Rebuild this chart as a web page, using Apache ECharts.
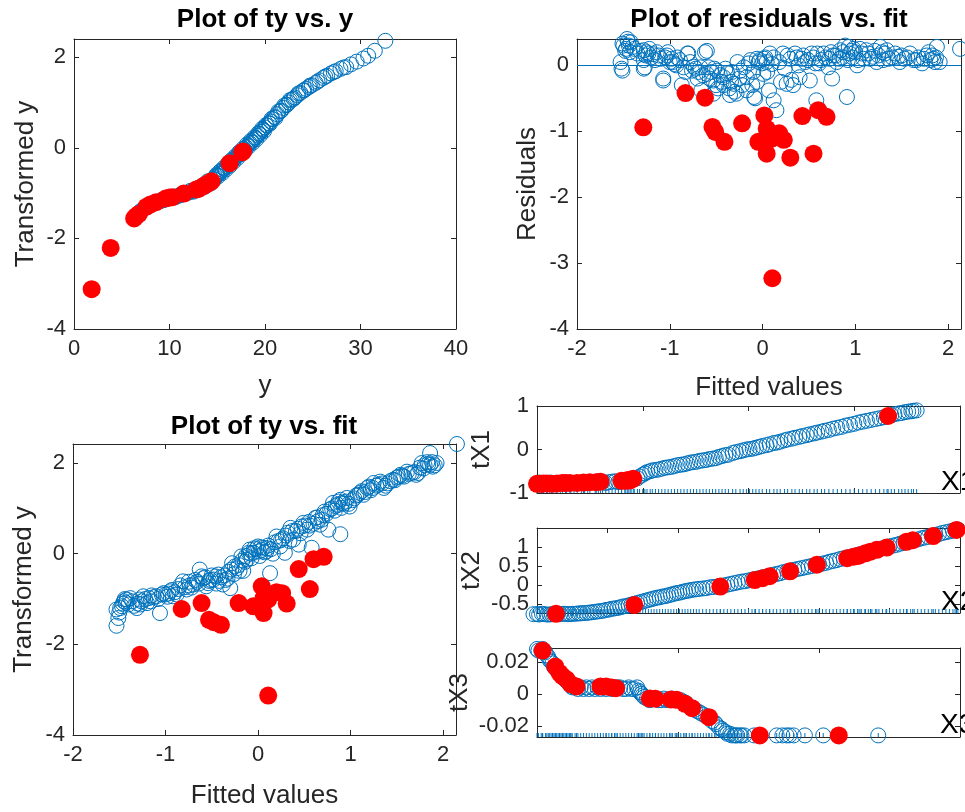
<!DOCTYPE html>
<html>
<head>
<meta charset="utf-8">
<script src="https://cdn.jsdelivr.net/npm/echarts@6/dist/echarts.min.js"></script>
<style>
html, body { margin: 0; background: #fff; }
#chart { width: 965px; height: 812px; }
</style>
</head>
<body>
<div id="chart"></div>
<script>
// ---- data ----
// top-left: transformed y against y
const tyVsYGood = [[6.4,-1.52],[6.6,-1.47],[6.9,-1.42],[7.1,-1.38],[7.3,-1.35],[7.5,-1.32],[7.8,-1.29],[8.1,-1.26],[8.4,-1.23],[8.7,-1.20],[9.0,-1.18],[9.3,-1.16],[9.6,-1.14],[9.9,-1.12],[10.2,-1.10],[10.5,-1.08],[10.8,-1.07],[11.1,-1.05],[11.4,-1.03],[11.7,-1.01],[12.0,-0.99],[12.3,-0.96],[12.6,-0.94],[12.9,-0.91],[13.2,-0.88],[13.5,-0.85],[13.8,-0.81],[14.1,-0.77],[14.4,-0.73],[14.6,-0.69],[14.8,-0.65],[15.0,-0.61],[15.2,-0.57],[15.4,-0.53],[15.6,-0.49],[15.8,-0.45],[16.0,-0.41],[16.2,-0.37],[16.4,-0.33],[16.6,-0.28],[16.8,-0.24],[17.0,-0.20],[17.2,-0.15],[17.4,-0.11],[17.6,-0.07],[17.8,-0.03],[18.0,0.01],[18.2,0.05],[18.4,0.10],[18.6,0.14],[18.8,0.18],[19.0,0.22],[19.2,0.27],[19.4,0.31],[19.6,0.36],[19.8,0.40],[20.0,0.45],[20.2,0.49],[20.4,0.54],[20.6,0.58],[20.8,0.63],[21.0,0.68],[21.3,0.74],[21.6,0.81],[21.9,0.88],[22.2,0.94],[22.5,1.00],[22.8,1.06],[23.1,1.11],[23.4,1.16],[23.7,1.21],[24.0,1.26],[24.3,1.30],[24.6,1.34],[24.9,1.38],[25.3,1.43],[25.7,1.49],[26.1,1.54],[26.5,1.59],[26.9,1.64],[27.4,1.69],[27.9,1.74],[28.5,1.78],[29.0,1.84],[29.6,1.90],[30.3,1.97],[30.8,2.03],[31.5,2.14],[32.6,2.36],
    [12.2,-0.95],[12.5,-0.97],[13.0,-0.93],[13.4,-0.84],[13.7,-0.86],[14.0,-0.74],[14.3,-0.79],[14.7,-0.70],[14.9,-0.60],[15.1,-0.63],[15.3,-0.52],[15.5,-0.56],[15.7,-0.44],[15.9,-0.48],[16.1,-0.36],[16.3,-0.40],[16.5,-0.27],[16.7,-0.31],[16.9,-0.19],[17.1,-0.23],[17.3,-0.10],[17.5,-0.14],[17.7,-0.02],[17.9,-0.06],[18.1,0.07],[18.3,0.03],[18.5,0.15],[18.7,0.11],[18.9,0.23],[19.1,0.19],[19.3,0.32],[19.5,0.28],[19.7,0.42],[19.9,0.37],[20.1,0.50],[20.5,0.53],[20.7,0.64],[21.1,0.66],[21.4,0.80],[21.7,0.82],[22.0,0.93],[22.3,0.95],[22.6,1.05],[23.0,1.08],[23.5,1.20],[24.1,1.27],[24.7,1.37],[25.5,1.46],[26.3,1.57],[27.2,1.67],[28.2,1.77],[9.2,-1.15],[10.6,-1.09],[11.2,-1.03],[7.0,-1.40],[8.0,-1.26]];
const tyVsYOut = [[1.85,-3.12],[3.84,-2.21],[6.3,-1.56],[6.5,-1.51],[6.8,-1.46],[7.6,-1.30],[8.0,-1.25],[8.6,-1.20],[9.6,-1.12],[10.0,-1.10],[10.3,-1.09],[11.5,-1.01],[12.8,-0.92],[13.1,-0.90],[13.6,-0.84],[14.0,-0.79],[14.4,-0.74],[16.3,-0.34],[17.6,-0.10],[17.7,-0.08]];

// top-right: residuals against fitted values
const resVsFitGood = [[-1.53,0.05],[-1.51,-0.08],[-1.52,-0.05],[-1.51,0.33],[-1.46,0.40],[-1.44,0.30],[-1.48,0.22],[-1.42,0.35],[-1.40,0.28],[-1.28,0.23],[-1.23,0.18],[-1.28,0.08],[-1.28,-0.05],[-1.27,-0.03],[-1.25,0.20],[-1.20,0.12],[-1.14,0.20],[-1.10,0.10],[-1.07,-0.20],[-1.07,-0.23],[-1.03,0.15],[-0.98,0.10],[-1.00,0.05],[-0.95,0.02],[-0.92,0.12],[-0.87,-0.30],[-0.85,-0.03],[-0.81,0.18],[-0.80,0.18],[-0.78,0.05],[-0.76,-0.08],[-0.72,-0.05],[-0.70,-0.20],[-0.67,-0.03],[-0.66,-0.38],[-0.62,0.20],[-0.60,0.22],[-0.60,-0.13],[-0.58,-0.03],[-0.55,-0.10],[-0.53,-0.23],[-0.53,-0.43],[-0.50,-0.30],[-0.49,-0.08],[-0.46,-0.15],[-0.42,-0.18],[-0.42,-0.30],[-0.40,-0.05],[-0.36,-0.35],[-0.35,-0.45],[-0.33,-0.10],[-0.31,-0.28],[-0.28,-0.43],[-0.27,0.05],[-0.25,-0.20],[-0.20,-0.03],[-0.17,-0.18],[-0.17,-0.38],[-0.13,0.08],[-0.10,-0.10],[-0.09,-0.48],[-0.08,-0.50],[-0.06,0.10],[-0.06,-0.25],[-0.03,0.08],[-0.005,0.03],[0.01,-0.13],[0.03,0.12],[0.045,0.05],[0.07,-0.38],[0.08,0.18],[0.10,0.02],[0.12,-0.53],[0.15,-0.68],[0.18,0.05],[0.22,0.18],[0.24,-0.05],[0.26,-0.28],[0.30,0.10],[0.33,-0.30],[0.35,0.18],[0.39,0.00],[0.40,-0.18],[0.42,0.10],[0.46,0.05],[0.51,-0.23],[0.55,0.12],[0.57,0.03],[0.58,-0.53],[0.59,0.18],[0.63,0.08],[0.66,0.18],[0.71,-0.03],[0.72,0.10],[0.75,-0.20],[0.76,0.15],[0.80,0.05],[0.84,0.23],[0.86,0.12],[0.89,0.30],[0.91,-0.48],[0.92,0.08],[0.94,0.18],[0.96,0.22],[0.98,0.25],[1.02,0.00],[1.03,0.08],[1.07,0.18],[1.12,0.23],[1.16,0.10],[1.19,0.13],[1.23,0.05],[1.27,0.28],[1.30,0.08],[1.32,0.18],[1.34,0.23],[1.40,0.12],[1.46,0.13],[1.48,0.05],[1.53,0.10],[1.59,0.18],[1.63,0.08],[1.68,0.12],[1.72,0.03],[1.77,0.15],[1.81,0.08],[1.84,0.10],[1.86,0.05],[1.88,0.28],[1.91,0.05],[2.13,0.25],
    [-1.50,0.30],[-1.47,0.25],[-1.45,0.36],[-1.43,0.20],[-1.38,0.25],[-1.35,0.18],[-1.32,0.22],[-1.26,0.15],[-1.22,0.25],[-1.18,0.17],[-1.16,0.08],[-1.12,0.15],[-1.05,0.12],[-1.02,0.20],[-0.97,0.05],[-0.93,0.00],[-0.89,0.08],[-0.83,-0.10],[-0.74,-0.02],[-0.69,-0.10],[-0.64,-0.15],[-0.57,-0.20],[-0.52,-0.05],[-0.48,-0.35],[-0.44,-0.25],[-0.38,-0.12],[-0.34,-0.25],[-0.30,-0.40],[-0.24,-0.08],[-0.22,-0.30],[-0.15,0.03],[-0.11,-0.30],[-0.04,0.05],[0.02,0.10],[0.05,-0.10],[0.12,0.12],[0.20,-0.25],[0.27,0.15],[0.31,-0.22],[0.37,0.12],[0.44,0.15],[0.49,0.08],[0.53,0.18],[0.61,0.03],[0.68,0.12],[0.74,0.20],[0.79,0.15],[0.83,0.10],[0.87,0.20],[0.93,0.28],[0.97,0.12],[1.00,0.20],[1.05,0.25],[1.09,0.10],[1.14,0.18],[1.21,0.22],[1.25,0.15],[1.29,0.20],[1.36,0.10],[1.43,0.18],[1.50,0.15],[1.56,0.12],[1.66,0.08],[1.74,0.10],[1.79,0.20],[1.83,0.15],[1.87,0.12]];
const resVsFitOut = [[-1.285,-0.94],[-0.83,-0.42],[-0.62,-0.49],[-0.54,-0.935],[-0.51,-1.01],[-0.41,-1.16],[-0.22,-0.88],[0.02,-0.76],[-0.045,-1.16],[0.045,-0.96],[0.045,-1.34],[0.10,-1.11],[0.18,-1.03],[0.23,-1.13],[0.30,-1.40],[0.106,-3.23],[0.43,-0.77],[0.55,-1.34],[0.60,-0.68],[0.69,-0.78]];

// bottom-left: transformed y against fitted values
const tyVsFitGood = [[-1.53,-1.59],[-1.51,-1.42],[-1.53,-1.23],[-1.50,-1.30],[-1.47,-1.16],[-1.45,-1.05],[-1.43,-1.08],[-1.42,-1.01],[-1.40,-1.12],[-1.38,-0.98],[-1.31,-1.20],[-1.30,-1.10],[-1.28,-1.01],[-1.26,-1.05],[-1.24,-0.94],[-1.20,-1.09],[-1.18,-0.98],[-1.15,-0.92],[-1.10,-0.94],[-1.08,-1.00],[-1.06,-1.31],[-1.04,-0.90],[-1.02,-0.87],[-0.98,-0.95],[-0.95,-0.83],[-0.92,-0.94],[-0.90,-0.85],[-0.86,-0.78],[-0.81,-0.61],[-0.79,-0.74],[-0.77,-0.79],[-0.74,-0.70],[-0.70,-0.68],[-0.66,-0.62],[-0.63,-0.35],[-0.61,-0.50],[-0.59,-0.54],[-0.56,-0.72],[-0.53,-0.60],[-0.50,-0.48],[-0.48,-0.57],[-0.45,-0.66],[-0.43,-0.46],[-0.40,-0.52],[-0.38,-0.68],[-0.35,-0.58],[-0.32,-0.40],[-0.30,-0.76],[-0.28,-0.21],[-0.26,-0.45],[-0.23,-0.32],[-0.21,-0.25],[-0.18,-0.06],[-0.16,-0.38],[-0.14,-0.18],[-0.12,-0.13],[-0.10,0.02],[-0.09,0.09],[-0.07,-0.10],[-0.05,0.02],[-0.02,0.10],[0.00,0.16],[0.02,-0.05],[0.04,0.08],[0.06,0.13],[0.09,0.05],[0.11,0.18],[0.13,-0.43],[0.16,0.00],[0.20,0.38],[0.22,0.28],[0.24,0.16],[0.27,0.34],[0.29,0.02],[0.32,0.46],[0.35,0.57],[0.38,0.31],[0.41,0.50],[0.44,0.20],[0.47,0.60],[0.49,0.68],[0.53,0.53],[0.56,0.62],[0.58,0.13],[0.62,0.79],[0.65,0.72],[0.67,0.64],[0.70,0.85],[0.72,0.93],[0.76,0.53],[0.78,0.98],[0.81,1.12],[0.84,1.05],[0.87,1.15],[0.89,1.19],[0.90,1.01],[0.89,0.43],[0.93,1.10],[0.96,1.23],[0.99,1.04],[1.02,1.18],[1.06,1.28],[1.10,1.34],[1.14,1.30],[1.18,1.45],[1.22,1.40],[1.25,1.56],[1.28,1.50],[1.32,1.59],[1.36,1.45],[1.40,1.55],[1.46,1.63],[1.50,1.68],[1.54,1.74],[1.58,1.70],[1.61,1.81],[1.66,1.78],[1.71,1.74],[1.75,1.90],[1.77,2.00],[1.80,1.95],[1.83,2.02],[1.86,2.22],[1.86,1.96],[1.89,1.92],[1.93,2.00],[2.15,2.42],
    [-1.49,-1.20],[-1.46,-1.10],[-1.44,-1.00],[-1.36,-1.05],[-1.34,-1.15],[-1.27,-1.12],[-1.22,-1.00],[-1.16,-1.05],[-1.13,-0.96],[-1.00,-0.90],[-0.97,-0.88],[-0.93,-0.80],[-0.88,-0.90],[-0.84,-0.70],[-0.75,-0.62],[-0.72,-0.75],[-0.68,-0.58],[-0.64,-0.66],[-0.57,-0.52],[-0.54,-0.65],[-0.51,-0.58],[-0.46,-0.50],[-0.42,-0.60],[-0.36,-0.48],[-0.33,-0.55],[-0.29,-0.35],[-0.25,-0.28],[-0.20,-0.38],[-0.17,-0.15],[-0.13,-0.05],[-0.08,0.00],[-0.04,0.12],[0.01,0.05],[0.03,0.14],[0.07,0.03],[0.10,0.12],[0.14,0.10],[0.18,0.25],[0.25,0.30],[0.30,0.40],[0.34,0.28],[0.37,0.50],[0.43,0.55],[0.46,0.45],[0.51,0.62],[0.55,0.70],[0.60,0.66],[0.64,0.80],[0.69,0.75],[0.74,0.88],[0.80,1.00],[0.83,0.95],[0.86,1.08],[0.91,1.12],[0.95,1.15],[0.98,1.10],[1.04,1.22],[1.08,1.30],[1.12,1.38],[1.16,1.36],[1.20,1.48],[1.24,1.45],[1.30,1.52],[1.34,1.55],[1.38,1.50],[1.43,1.60],[1.48,1.62],[1.52,1.70],[1.56,1.72],[1.63,1.76],[1.69,1.80],[1.73,1.78],[1.79,1.88],[1.84,1.98],[1.88,2.02],[1.91,1.95]];
const tyVsFitOut = [[-1.276,-2.23],[-0.825,-1.22],[-0.61,-1.09],[-0.53,-1.46],[-0.48,-1.51],[-0.40,-1.57],[-0.21,-1.09],[0.04,-0.72],[-0.05,-1.16],[0.06,-0.98],[0.06,-1.31],[0.11,-1.01],[0.20,-0.85],[0.26,-0.87],[0.31,-1.10],[0.11,-3.13],[0.44,-0.34],[0.56,-0.78],[0.60,-0.12],[0.71,-0.07]];

// right column: transformed explanatory variables against the raw ones
const tX1Good = [[0.0,-0.79],[0.05,-0.78],[0.10,-0.79],[0.15,-0.77],[0.22,-0.78],[0.28,-0.76],[0.35,-0.77],[0.42,-0.76],[0.48,-0.75],[0.55,-0.76],[0.62,-0.74],[0.68,-0.75],[0.74,-0.73],[0.80,-0.72],[0.86,-0.71],[0.92,-0.68],[0.97,-0.62],[1.02,-0.55],[1.07,-0.50],[1.12,-0.47],[1.18,-0.44],[1.24,-0.41],[1.30,-0.38],[1.36,-0.35],[1.42,-0.32],[1.48,-0.29],[1.54,-0.26],[1.60,-0.24],[1.66,-0.21],[1.72,-0.17],[1.78,-0.13],[1.85,-0.08],[1.92,-0.04],[1.98,0.00],[2.04,0.02],[2.10,0.06],[2.17,0.10],[2.24,0.15],[2.30,0.18],[2.37,0.23],[2.44,0.27],[2.51,0.31],[2.58,0.35],[2.65,0.39],[2.72,0.43],[2.80,0.48],[2.88,0.52],[2.96,0.57],[3.04,0.62],[3.12,0.66],[3.20,0.70],[3.28,0.74],[3.35,0.79],[3.42,0.83],[3.48,0.86],[3.54,0.88],[3.59,0.90],
    [0.02,-0.76],[0.12,-0.76],[0.18,-0.79],[0.32,-0.78],[0.45,-0.77],[0.58,-0.73],[0.65,-0.77],[0.71,-0.74],[0.77,-0.75],[0.83,-0.73],[0.89,-0.70],[0.95,-0.66],[1.00,-0.58],[1.04,-0.52],[1.09,-0.48],[1.15,-0.46],[1.21,-0.42],[1.27,-0.40],[1.33,-0.36],[1.39,-0.34],[1.45,-0.30],[1.51,-0.28],[1.57,-0.25],[1.63,-0.22],[1.69,-0.20],[1.75,-0.15],[1.81,-0.12],[1.88,-0.06],[1.95,-0.02],[2.01,0.01],[2.07,0.04],[2.13,0.08],[2.20,0.12],[2.27,0.16],[2.34,0.21],[2.41,0.25],[2.48,0.29],[2.55,0.33],[2.62,0.37],[2.69,0.41],[2.76,0.45],[2.84,0.50],[2.92,0.55],[3.00,0.59],[3.08,0.64],[3.16,0.68],[3.24,0.72],[3.31,0.76],[3.38,0.81],[3.45,0.84],[3.51,0.87],[3.56,0.89]];
const tX1Out = [[0.00,-0.79],[0.04,-0.79],[0.06,-0.78],[0.09,-0.78],[0.14,-0.79],[0.19,-0.78],[0.24,-0.77],[0.27,-0.77],[0.31,-0.77],[0.38,-0.77],[0.44,-0.76],[0.50,-0.75],[0.56,-0.75],[0.60,-0.74],[0.80,-0.72],[0.84,-0.72],[0.86,-0.70],[0.88,-0.71],[0.91,-0.67],[3.32,0.77]];
const tX2Good = [[-0.05,-0.76],[0.03,-0.77],[0.10,-0.76],[0.18,-0.77],[0.25,-0.75],[0.33,-0.76],[0.40,-0.75],[0.47,-0.76],[0.55,-0.75],[0.62,-0.74],[0.70,-0.73],[0.78,-0.71],[0.86,-0.69],[0.94,-0.67],[1.02,-0.64],[1.10,-0.61],[1.18,-0.58],[1.26,-0.55],[1.34,-0.51],[1.42,-0.47],[1.50,-0.43],[1.58,-0.39],[1.66,-0.35],[1.74,-0.32],[1.82,-0.29],[1.90,-0.25],[1.98,-0.21],[2.06,-0.18],[2.14,-0.15],[2.22,-0.12],[2.30,-0.10],[2.40,-0.08],[2.50,-0.05],[2.60,-0.03],[2.70,0.01],[2.80,0.05],[2.90,0.09],[3.00,0.12],[3.10,0.16],[3.20,0.20],[3.30,0.24],[3.40,0.29],[3.50,0.34],[3.60,0.38],[3.70,0.42],[3.80,0.46],[3.90,0.50],[4.00,0.54],[4.10,0.58],[4.20,0.63],[4.30,0.68],[4.40,0.72],[4.50,0.76],[4.60,0.81],[4.70,0.86],[4.80,0.91],[4.90,0.96],[5.00,1.01],[5.10,1.05],[5.20,1.10],[5.30,1.14],[5.40,1.19],[5.50,1.24],[5.60,1.29],[5.70,1.33],[5.80,1.38],[5.90,1.42],[5.97,1.45],
    [0.00,-0.76],[0.07,-0.75],[0.14,-0.77],[0.21,-0.76],[0.29,-0.76],[0.37,-0.75],[0.44,-0.76],[0.51,-0.75],[0.59,-0.74],[0.66,-0.73],[0.74,-0.72],[0.82,-0.70],[0.90,-0.68],[0.98,-0.65],[1.06,-0.62],[1.14,-0.60],[1.22,-0.56],[1.30,-0.53],[1.38,-0.49],[1.46,-0.45],[1.54,-0.41],[1.62,-0.37],[1.70,-0.33],[1.78,-0.30],[1.86,-0.27],[1.94,-0.23],[2.02,-0.20],[2.10,-0.16],[2.18,-0.13],[2.26,-0.11],[2.35,-0.09],[2.45,-0.06],[2.55,-0.04],[2.65,-0.01],[2.75,0.03],[2.85,0.07],[2.95,0.10],[3.05,0.14],[3.15,0.18],[3.25,0.22],[3.35,0.27],[3.45,0.31],[3.55,0.36],[3.65,0.40],[3.75,0.44],[3.85,0.48],[3.95,0.52],[4.05,0.56],[4.15,0.61],[4.25,0.65],[4.35,0.70],[4.45,0.74],[4.55,0.79],[4.65,0.84],[4.75,0.89],[4.85,0.94],[4.95,0.98],[5.05,1.03],[5.15,1.08],[5.25,1.12],[5.35,1.17],[5.45,1.22],[5.55,1.26],[5.65,1.31],[5.75,1.36],[5.85,1.40],[5.93,1.44]];
const tX2Out = [[0.27,-0.75],[1.38,-0.52],[2.60,-0.04],[3.09,0.13],[3.20,0.18],[3.30,0.23],[3.59,0.36],[3.97,0.53],[4.40,0.70],[4.49,0.74],[4.55,0.76],[4.58,0.78],[4.66,0.83],[4.73,0.87],[4.82,0.92],[4.96,0.98],[5.24,1.13],[5.33,1.17],[5.62,1.28],[5.95,1.44]];
const tX3Good = [[0.00,0.028],[0.03,0.027],[0.06,0.026],[0.08,0.023],[0.10,0.020],[0.12,0.017],[0.14,0.015],[0.16,0.013],[0.18,0.011],[0.20,0.009],[0.22,0.007],[0.24,0.005],[0.27,0.004],[0.31,0.004],[0.35,0.004],[0.39,0.004],[0.43,0.004],[0.47,0.004],[0.51,0.004],[0.55,0.003],[0.59,0.004],[0.63,0.003],[0.67,0.003],[0.71,0.004],[0.73,0.001],[0.75,-0.001],[0.78,-0.003],[0.82,-0.003],[0.86,-0.004],[0.90,-0.003],[0.94,-0.004],[0.98,-0.004],[1.02,-0.004],[1.06,-0.006],[1.10,-0.009],[1.14,-0.011],[1.18,-0.013],[1.22,-0.015],[1.26,-0.018],[1.29,-0.021],[1.32,-0.023],[1.35,-0.025],[1.38,-0.026],[1.40,-0.026],[1.42,-0.026],[1.44,-0.026],[1.47,-0.026],[1.54,-0.026],[1.70,-0.026],[1.74,-0.026],[1.77,-0.026],[1.79,-0.026],[1.82,-0.026],[1.90,-0.026],[2.03,-0.026],[2.42,-0.026],
    [0.01,0.027],[0.04,0.028],[0.07,0.024],[0.09,0.021],[0.11,0.019],[0.13,0.016],[0.15,0.014],[0.17,0.012],[0.19,0.010],[0.21,0.008],[0.23,0.006],[0.25,0.004],[0.29,0.003],[0.33,0.003],[0.37,0.003],[0.41,0.003],[0.45,0.003],[0.49,0.003],[0.53,0.003],[0.57,0.004],[0.61,0.003],[0.65,0.004],[0.69,0.003],[0.72,0.002],[0.74,0.000],[0.76,-0.002],[0.80,-0.004],[0.84,-0.003],[0.88,-0.004],[0.92,-0.004],[0.96,-0.003],[1.00,-0.004],[1.04,-0.005],[1.08,-0.008],[1.12,-0.010],[1.16,-0.012],[1.20,-0.014],[1.24,-0.017],[1.27,-0.019],[1.31,-0.022],[1.34,-0.024],[1.37,-0.025],[1.41,-0.026],[1.45,-0.026]];
const tX3Out = [[0.04,0.027],[0.13,0.017],[0.16,0.013],[0.18,0.011],[0.21,0.009],[0.24,0.006],[0.28,0.0046],[0.45,0.0046],[0.49,0.0046],[0.53,0.0040],[0.56,0.0035],[0.80,-0.0030],[0.84,-0.0031],[0.95,-0.0035],[0.99,-0.0038],[1.05,-0.0063],[1.10,-0.0090],[1.22,-0.0146],[1.58,-0.026],[2.14,-0.026]];

// tick values
const yTicksX = [0, 10, 20, 30, 40];
const tyTicks = [-4, -2, 0, 2];
const fitTicks = [-2, -1, 0, 1, 2];
const resTicks = [-4, -3, -2, -1, 0];
const tX1Ticks = [-1, 0, 1];
const tX2Ticks = [-0.5, 0, 0.5, 1];
const tX3Ticks = [-0.02, 0, 0.02];
const x1Ticks = [0, 1, 2, 3, 4];
const x2Ticks = [0, 1, 2, 3, 4, 5, 6];
const x3Ticks = [0, 1, 2, 3];

const FONT = "'Liberation Sans', Arial, Helvetica, sans-serif";
const AXIS = '#262626';
const BLUE = '#0072BD';
const RED = '#FF0000';

const panels = [
    {grid: {left: 74, top: 39, width: 382, height: 290}, xMin: 0, xMax: 40, xTicks: yTicksX, yMin: -4, yMax: 2.4, yTicks: tyTicks,
     xName: 'y', xGap: 44, yName: 'Transformed y', yGap: 35, good: tyVsYGood, out: tyVsYOut},
    {grid: {left: 577, top: 39, width: 384, height: 290}, xMin: -2, xMax: 2.14, xTicks: fitTicks, yMin: -4, yMax: 0.4, yTicks: resTicks,
     xName: 'Fitted values', xGap: 46, yName: 'Residuals', yGap: 36, good: resVsFitGood, out: resVsFitOut, zeroLine: true},
    {grid: {left: 73, top: 444, width: 383, height: 291}, xMin: -2, xMax: 2.14, xTicks: fitTicks, yMin: -4, yMax: 2.42, yTicks: tyTicks,
     xName: 'Fitted values', xGap: 48, yName: 'Transformed y', yGap: 36, good: tyVsFitGood, out: tyVsFitOut},
    {grid: {left: 537, top: 406, width: 423, height: 87}, xMin: 0, xMax: 4, xTicks: x1Ticks, yMin: -1, yMax: 1, yTicks: tX1Ticks,
     noXLabels: true, yName: 'tX1', yGap: 42, good: tX1Good, out: tX1Out, rug: true},
    {grid: {left: 537, top: 528, width: 423, height: 85}, xMin: 0, xMax: 6, xTicks: x2Ticks, yMin: -0.73, yMax: 1.49, yTicks: tX2Ticks,
     noXLabels: true, yName: 'tX2', yGap: 52, good: tX2Good, out: tX2Out, rug: true, splitLabels: true},
    {grid: {left: 537, top: 648, width: 423, height: 89}, xMin: 0, xMax: 3, xTicks: x3Ticks, yMin: -0.027, yMax: 0.0286, yTicks: tX3Ticks,
     noXLabels: true, yName: 'tX3', yGap: 64, good: tX3Good, out: tX3Out, rug: true},
];

const nameStyle = {color: AXIS, fontSize: 26, fontFamily: FONT};
const labelStyle = {color: AXIS, fontSize: 22, fontFamily: FONT, showMinLabel: true, showMaxLabel: true};
const axisLine = {show: true, onZero: false, lineStyle: {color: AXIS, width: 1}};
const ticks = (vals) => ({show: true, inside: true, length: 5, customValues: vals, lineStyle: {color: AXIS, width: 1}});

const grids = [], xAxes = [], yAxes = [], series = [], extraYAxes = [];

panels.forEach((p, i) => {
    grids.push(p.grid);

    // tick labels that sit closer than their own height get thinned by echarts,
    // so such an axis hands every other label to a bare companion axis
    const even = p.yTicks.filter((v, k) => k % 2 === 0);
    const odd = p.yTicks.filter((v, k) => k % 2 === 1);
    const yLabels = p.splitLabels ? even : p.yTicks;

    // bottom / left axes carry the labels, top / right ones only close the box
    xAxes.push({
        gridIndex: i, type: 'value', position: 'bottom', min: p.xMin, max: p.xMax,
        axisLine: axisLine, axisTick: ticks(p.xTicks), splitLine: {show: false},
        axisLabel: Object.assign({show: !p.noXLabels, customValues: p.xTicks, margin: 9}, labelStyle),
        name: p.xName || '', nameLocation: 'middle', nameGap: p.xGap || 0, nameTextStyle: nameStyle,
    });
    xAxes.push({
        gridIndex: i, type: 'value', position: 'top', min: p.xMin, max: p.xMax,
        axisLine: axisLine, axisTick: ticks(p.xTicks), splitLine: {show: false}, axisLabel: {show: false},
    });
    yAxes.push({
        gridIndex: i, type: 'value', position: 'left', min: p.yMin, max: p.yMax,
        axisLine: axisLine, axisTick: ticks(p.yTicks), splitLine: {show: false},
        axisLabel: Object.assign({customValues: yLabels, margin: 8}, labelStyle),
        name: p.yName, nameLocation: 'middle', nameGap: p.yGap, nameTextStyle: nameStyle,
    });
    yAxes.push({
        gridIndex: i, type: 'value', position: 'right', min: p.yMin, max: p.yMax,
        axisLine: axisLine, axisTick: ticks(p.yTicks), splitLine: {show: false}, axisLabel: {show: false},
    });
    if (p.splitLabels) {
        extraYAxes.push({
            gridIndex: i, type: 'value', position: 'left', min: p.yMin, max: p.yMax,
            axisLine: {show: false}, axisTick: {show: false}, splitLine: {show: false},
            axisLabel: Object.assign({customValues: odd, margin: 8}, labelStyle),
        });
    }

    const ax = {xAxisIndex: 2 * i, yAxisIndex: 2 * i};

    if (p.rug) {
        series.push(Object.assign({
            type: 'scatter', symbol: 'rect', symbolSize: [1, 4], symbolOffset: [0, -2],
            itemStyle: {color: BLUE, opacity: 1}, clip: false, silent: true, z: 1,
            data: p.good.concat(p.out).map(d => [d[0], p.yMin]),
        }, ax));
    }

    const good = Object.assign({
        type: 'scatter', symbol: 'circle', symbolSize: 15, clip: false, silent: true, z: 2,
        itemStyle: {color: 'rgba(0,0,0,0)', borderColor: BLUE, borderWidth: 1, opacity: 1},
        data: p.good,
    }, ax);
    if (p.zeroLine) {
        good.markLine = {
            silent: true, symbol: ['none', 'none'], label: {show: false},
            lineStyle: {color: BLUE, width: 1, type: 'solid'},
            data: [{yAxis: 0}],
        };
    }
    series.push(good);

    series.push(Object.assign({
        type: 'scatter', symbol: 'circle', symbolSize: 18, clip: false, silent: true, z: 3,
        itemStyle: {color: RED, opacity: 1},
        data: p.out,
    }, ax));
});

const titleStyle = {color: '#000', fontSize: 26, fontWeight: 'bold', fontFamily: FONT};

const chart = echarts.init(document.getElementById('chart'), null, {renderer: 'canvas'});
chart.setOption({
    animation: false,
    backgroundColor: '#fff',
    title: [
        {text: 'Plot of ty vs. y', left: 260, top: 2, textAlign: 'center', textStyle: titleStyle},
        {text: 'Plot of residuals vs. fit', left: 764, top: 2, textAlign: 'center', textStyle: titleStyle},
        {text: 'Plot of ty vs. fit', left: 259, top: 409, textAlign: 'center', textStyle: titleStyle},
    ],
    graphic: [
        {type: 'text', x: 941, y: 468, style: {text: 'X1', fontSize: 28, fontFamily: FONT, fill: '#000'}},
        {type: 'text', x: 941, y: 588, style: {text: 'X2', fontSize: 28, fontFamily: FONT, fill: '#000'}},
        {type: 'text', x: 940, y: 711, style: {text: 'X3', fontSize: 28, fontFamily: FONT, fill: '#000'}},
    ],
    grid: grids,
    xAxis: xAxes,
    yAxis: yAxes.concat(extraYAxes),
    series: series,
});
</script>
</body>
</html>
